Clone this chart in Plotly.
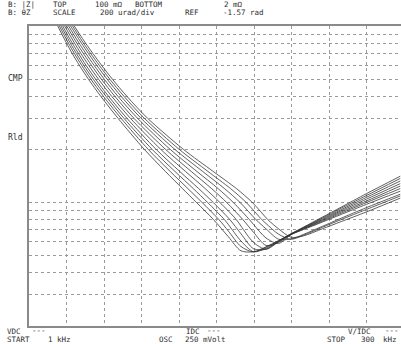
import plotly.graph_objects as go

# Sweep settings (kHz) and |Z| display limits (mOhm)
START_KHZ = 1.0
STOP_KHZ = 300.0
TOP_MOHM = 100.0
BOTTOM_MOHM = 2.0

# Falling branch: frequency (kHz) at which each trace crosses these |Z| levels (mOhm)
Z_LEVELS = [120, 100, 90, 80, 70, 60, 50, 40, 30, 20, 15, 12, 10, 8]
FALL_KHZ = [
    [18.5, 23.9, 27.2, 30.9, 35.4, 41.1, 48.4, 58.2, 72.0, 93.0, 109.8, 123.4, 134.6, 148.2],
    [19.6, 25.2, 28.6, 32.4, 37.1, 42.9, 50.3, 60.3, 74.4, 96.1, 113.6, 127.7, 139.1, 152.5],
    [20.8, 26.5, 30.0, 33.9, 38.7, 44.6, 52.2, 62.4, 76.7, 99.2, 117.4, 132.0, 143.5, 156.9],
    [21.9, 27.9, 31.4, 35.5, 40.4, 46.4, 54.1, 64.4, 79.1, 102.4, 121.2, 136.3, 148.0, 161.2],
    [23.3, 29.4, 33.1, 37.3, 42.3, 48.5, 56.4, 66.9, 81.9, 106.1, 125.8, 141.5, 153.3, 166.4],
    [24.7, 31.0, 34.8, 39.1, 44.3, 50.7, 58.7, 69.4, 84.7, 109.9, 130.4, 146.6, 158.7, 171.6],
    [26.0, 32.6, 36.5, 40.9, 46.3, 52.8, 61.0, 71.9, 87.6, 113.6, 134.9, 151.8, 164.0, 176.8],
    [27.4, 34.2, 38.2, 42.8, 48.3, 54.9, 63.3, 74.4, 90.4, 117.3, 139.5, 156.9, 169.4, 182.0],
    [28.7, 35.7, 39.8, 44.4, 50.1, 56.9, 65.4, 76.7, 93.0, 120.8, 143.7, 161.7, 174.3, 186.7],
    [29.9, 37.1, 41.3, 46.1, 51.9, 58.8, 67.5, 79.0, 95.6, 124.2, 147.9, 166.4, 179.2, 191.5],
]

# Dip and rising branch: |Z| (mOhm) of each trace at these frequencies (kHz)
F_TAIL = [150, 160, 170, 180, 190, 200, 210, 220, 235, 250, 270, 297]
TAIL_MOHM = [
    [None, 6.40, 5.33, 5.27, 5.62, 6.09, 6.66, 7.27, 8.28, 9.43, 11.23, 14.1],
    [None, 6.89, 5.64, 5.25, 5.57, 6.08, 6.65, 7.23, 8.19, 9.29, 10.96, 13.7],
    [None, 7.50, 6.06, 5.27, 5.50, 6.04, 6.64, 7.19, 8.10, 9.13, 10.7, 13.25],
    [None, None, 6.66, 5.48, 5.44, 6.02, 6.62, 7.15, 8.01, 8.99, 10.45, 12.8],
    [None, None, 7.36, 5.95, 5.44, 6.00, 6.61, 7.12, 7.93, 8.85, 10.2, 12.4],
    [None, None, None, 6.79, 5.72, 5.95, 6.60, 7.08, 7.84, 8.71, 10.0, 12.0],
    [None, None, None, 7.52, 6.30, 5.87, 6.58, 7.04, 7.76, 8.57, 9.77, 11.6],
    [None, None, None, None, 7.10, 6.20, 6.22, 6.61, 7.34, 8.16, 9.36, 11.15],
    [None, None, None, None, 7.61, 6.62, 6.20, 6.54, 7.25, 8.02, 9.14, 10.9],
    [None, None, None, None, None, 7.10, 6.36, 6.48, 7.11, 7.81, 8.85, 10.6],
]

# Log grid lines of the |Z| scale (mOhm)
Y_GRID = [2, 3, 4, 5, 6, 7, 8, 9, 10, 20, 30, 40, 50, 60, 70, 80, 90, 100]

W, H = 401, 344
ML, MT, MB = 29, 26, 18
plot_w = W - ML
plot_h = H - MT - MB
div_khz = (STOP_KHZ - START_KHZ) / 10
px_per_khz = (10 * 37.5) / (STOP_KHZ - START_KHZ)
x_right = START_KHZ + plot_w / px_per_khz
x_grid = [START_KHZ + k * div_khz for k in range(11)]

fig = go.Figure()
for fall, tail in zip(FALL_KHZ, TAIL_MOHM):
    xs = list(fall)
    ys = list(Z_LEVELS)
    for f, z in zip(F_TAIL, tail):
        if z is not None:
            xs.append(f)
            ys.append(z)
    fig.add_trace(go.Scatter(
        x=xs, y=ys, mode="lines",
        line=dict(color="rgba(50,50,50,0.78)", width=1, shape="spline", smoothing=0.8),
        hoverinfo="skip", showlegend=False,
    ))

mono = "DejaVu Sans Mono"
txt_color = "#2e2e2e"


def label(px, py, text, size=7.5):
    fig.add_annotation(
        x=(px - ML) / plot_w, y=(H - MB - py) / plot_h,
        xref="paper", yref="paper", text=text, showarrow=False,
        xanchor="left", yanchor="middle", borderpad=0,
        font=dict(family=mono, size=size, color=txt_color),
    )


# Header: trace settings
label(7, 4.5, "B: |Z|")
label(52, 4.5, "TOP")
label(94, 4.5, "100 mΩ")
label(134, 4.5, "BOTTOM")
label(223, 4.5, "2 mΩ")
label(7, 12.5, "B: θZ")
label(52, 12.5, "SCALE")
label(99, 12.5, "200 urad/div")
label(184, 12.5, "REF")
label(222, 12.5, "-1.57 rad")

# Side markers
label(7, 78, "CMP", 8)
label(7, 137, "Rld", 8)

# Footer: source and sweep settings
label(6, 331.5, "VDC")
label(31, 330.5, "---")
label(6, 339.5, "START")
label(47, 339.5, "1 kHz")
label(185, 331.5, "IDC")
label(206, 330.5, "---")
label(158, 339.5, "OSC")
label(184, 339.5, "250 mVolt")
label(347, 331.5, "V/IDC")
label(384, 330.5, "---")
label(326, 339.5, "STOP")
label(360, 339.5, "300")
label(382, 339.5, "kHz")

fig.update_layout(
    width=W, height=H,
    margin=dict(l=ML, r=0, t=MT, b=MB, pad=0),
    paper_bgcolor="white", plot_bgcolor="white",
    xaxis=dict(
        range=[START_KHZ, x_right], tickvals=x_grid, showticklabels=False,
        ticks="", showgrid=True, gridcolor="#9a9a9a", griddash="dot", gridwidth=1,
        zeroline=False, showline=True, mirror=True, linecolor="#8a8a8a", linewidth=2,
    ),
    yaxis=dict(
        type="log", range=[0.30103, 2.0], tickvals=Y_GRID, showticklabels=False,
        ticks="", showgrid=True, gridcolor="#9a9a9a", griddash="dot", gridwidth=1,
        zeroline=False, showline=True, mirror=False, linecolor="#8a8a8a", linewidth=2,
    ),
)

fig.write_html("out.html")
